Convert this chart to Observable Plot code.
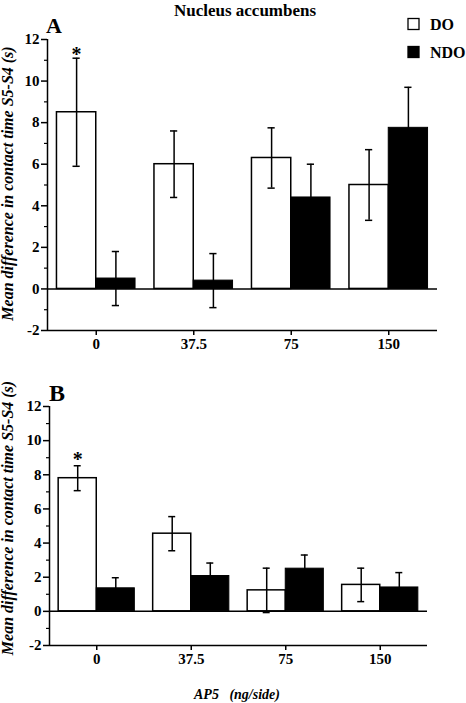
<!DOCTYPE html>
<html>
<head>
<meta charset="utf-8">
<script src="https://cdn.jsdelivr.net/npm/d3@7"></script>
<script src="https://cdn.jsdelivr.net/npm/@observablehq/plot@0.6"></script>
<style>
  html, body { margin: 0; padding: 0; background: #fff; }
  #wrap { position: relative; width: 466px; height: 703px; overflow: hidden; background: #fff; }
  #wrap > svg { position: absolute; left: 0; }
  #wrap text { font-family: "Liberation Serif", "Times New Roman", serif; font-weight: bold; }
</style>
</head>
<body>
<div id="wrap"></div>
<script>
// ---- data ----
const doses = ["0", "37.5", "75", "150"];
const groups = ["DO", "NDO"];
// Panel A
const aDO = [8.5, 6.0, 6.3, 5.0];
const aDOerr = [2.6, 1.6, 1.45, 1.7];
const aNDO = [0.5, 0.4, 4.4, 7.75];
const aNDOerr = [1.3, 1.3, 1.6, 1.95];
const aSig = ["*", "", "", ""];
// Panel B
const bDO = [7.8, 4.55, 1.23, 1.55];
const bDOerr = [0.73, 1.0, 1.3, 0.98];
const bNDO = [1.35, 2.07, 2.5, 1.4];
const bNDOerr = [0.62, 0.76, 0.8, 0.87];
const bSig = ["*", "", "", ""];
const yMajor = [-2, 0, 2, 4, 6, 8, 10, 12];
const yMinor = [-1, 1, 3, 5, 7, 9, 11];

const W = 0.403;   // half-group width in category units
const CAP = 0.037; // half cap width
const FONT = "'Liberation Serif', 'Times New Roman', serif";

function panel(doV, doE, ndoV, ndoE, sig, opts) {
  const rows = doses.map((d, i) => ({
    c: i + 0.5, DO: doV[i], DOe: doE[i], NDO: ndoV[i], NDOe: ndoE[i], sig: sig[i]
  }));
  const caps = [];
  rows.forEach(r => {
    caps.push({x: r.c - W / 2, y: r.DO + r.DOe}, {x: r.c - W / 2, y: r.DO - r.DOe});
    caps.push({x: r.c + W / 2, y: r.NDO + r.NDOe}, {x: r.c + W / 2, y: r.NDO - r.NDOe});
  });
  return Plot.plot({
    width: 466,
    height: opts.height,
    marginTop: opts.marginTop,
    marginLeft: opts.marginLeft,
    marginRight: opts.marginRight,
    marginBottom: opts.marginBottom,
    style: {fontFamily: FONT, fontWeight: "bold", fontSize: "15px", background: "transparent", overflow: "visible"},
    x: {domain: [0, doses.length], axis: null},
    y: {domain: [-2, 12], axis: null},
    marks: [
      Plot.rectY(rows, {x1: d => d.c - W, x2: d => d.c, y1: 0, y2: "DO", fill: "white", stroke: "black", strokeWidth: 1.5}),
      Plot.rectY(rows, {x1: d => d.c, x2: d => d.c + W, y1: 0, y2: "NDO", fill: "black", stroke: "black", strokeWidth: 1}),
      Plot.ruleX(rows, {x: d => d.c - W / 2, y1: d => d.DO - d.DOe, y2: d => d.DO + d.DOe, strokeWidth: 1.5}),
      Plot.ruleX(rows, {x: d => d.c + W / 2, y1: d => d.NDO - d.NDOe, y2: d => d.NDO + d.NDOe, strokeWidth: 1.5}),
      Plot.ruleY(caps, {y: "y", x1: d => d.x - CAP, x2: d => d.x + CAP, strokeWidth: 1.5}),
      Plot.ruleY([0], {strokeWidth: 1.5}),
      Plot.ruleY([-2], {strokeWidth: 1.5}),
      Plot.ruleX([0], {strokeWidth: 1.5}),
      Plot.axisY({ticks: yMajor, tickSize: 6, tickPadding: 2, tickFormat: d => String(d), strokeWidth: 1.5,
                  fontSize: 15, fontWeight: "bold", fontFamily: FONT}),
      Plot.axisY({ticks: yMinor, tickSize: 3, tickFormat: () => "", strokeWidth: 1.2}),
      Plot.axisX({ticks: doses.map((d, i) => i + 0.5), tickFormat: d => doses[Math.floor(d)], tickSize: 5, tickPadding: 3, strokeWidth: 1.5,
                  fontSize: 15, fontWeight: "bold", fontFamily: FONT}),
      Plot.text(rows, {x: d => d.c - W / 2, y: d => d.DO + d.DOe, text: "sig", fontSize: 20, fontWeight: "bold", fontFamily: FONT, lineAnchor: "middle", dy: opts.starDy})
    ]
  });
}

const wrap = document.getElementById("wrap");

const pA = panel(aDO, aDOerr, aNDO, aNDOerr, aSig, {height: 355, marginTop: 39, marginLeft: 47, marginRight: 29, marginBottom: 25, starDy: -4});
pA.style.top = "0px";
wrap.appendChild(pA);

const pB = panel(bDO, bDOerr, bNDO, bNDOerr, bSig, {height: 316, marginTop: 51, marginLeft: 49, marginRight: 39, marginBottom: 26, starDy: -6});
pB.style.top = "355px";
wrap.appendChild(pB);

// ---- text overlay: title, panel letters, legend, axis titles ----
const ov = d3.create("svg").attr("width", 466).attr("height", 703).style("top", "0px");

ov.append("text").attr("x", 245).attr("y", 15.5).attr("text-anchor", "middle")
  .attr("font-size", 17).text("Nucleus accumbens");
ov.append("text").attr("x", 46).attr("y", 32.5).attr("font-size", 22).text("A");
ov.append("text").attr("x", 49).attr("y", 400.5).attr("font-size", 24).text("B");

// legend
const legY = [24, 52];
groups.forEach((g, i) => {
  ov.append("rect").attr("x", 408).attr("y", legY[i] - 5.5).attr("width", 11).attr("height", 11)
    .attr("fill", i === 0 ? "white" : "black").attr("stroke", "black").attr("stroke-width", 1.3);
  ov.append("text").attr("x", 430).attr("y", legY[i] + 5.5).attr("font-size", 16).text(g);
});

// y axis titles
const yTitle = "Mean difference in contact time S5-S4 (s)";
[[183.5, 16], [518, 16]].forEach(([cy, fs]) => {
  ov.append("text").attr("transform", `translate(12.5,${cy}) rotate(-90)`)
    .attr("text-anchor", "middle").attr("font-size", fs).style("font-style", "italic")
    .text(yTitle);
});

// x axis title
ov.append("text").attr("x", 237).attr("y", 699).attr("text-anchor", "middle")
  .attr("font-size", 14).style("font-style", "italic").style("white-space", "pre")
  .text("AP5   (ng/side)");

wrap.appendChild(ov.node());
</script>
</body>
</html>
